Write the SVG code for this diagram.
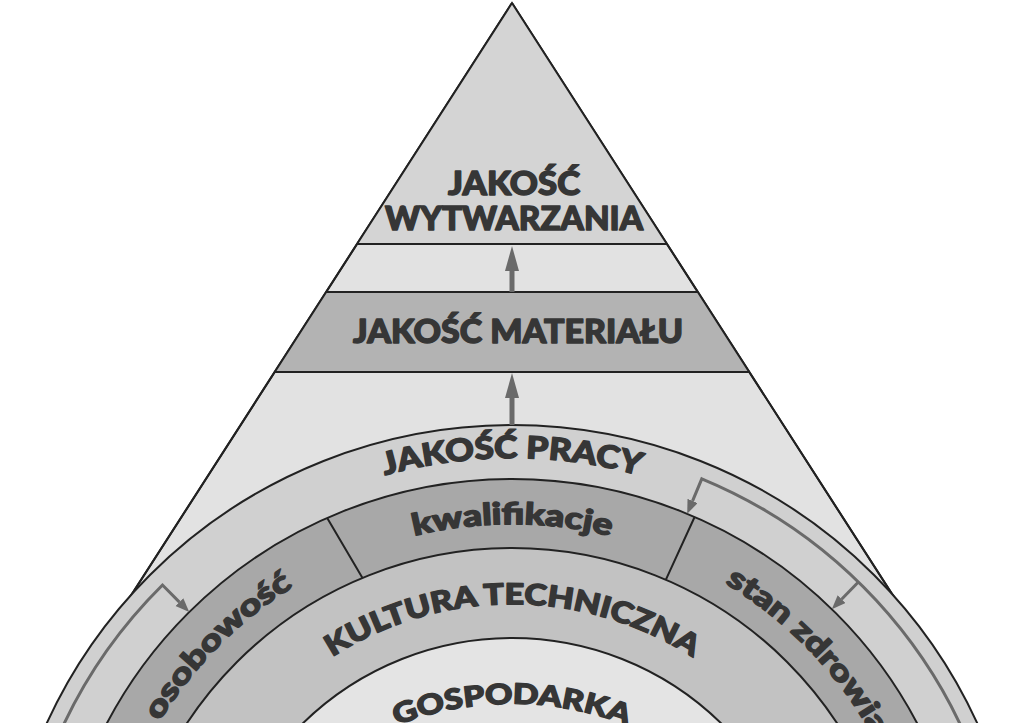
<svg xmlns="http://www.w3.org/2000/svg" width="1024" height="723" viewBox="0 0 1024 723">
<style>
.ln{stroke:#222;stroke-width:2;fill:none}
.t{font-family:"Lato","Liberation Sans",sans-serif;font-weight:900;fill:#363636;stroke:#363636;stroke-width:1.4;stroke-linejoin:round}
.con{stroke:#6a6a6a;stroke-width:3;fill:none}
</style>
<defs>
<marker id="ah" markerUnits="userSpaceOnUse" markerWidth="26" markerHeight="16" refX="0" refY="7" orient="auto"><path d="M0,0 L25,7 L0,14 z" fill="#6a6a6a"/></marker>
<marker id="ch" markerUnits="userSpaceOnUse" markerWidth="16" markerHeight="12" refX="0" refY="5.5" orient="auto"><path d="M0,0 L14,5.5 L0,11 z" fill="#6a6a6a"/></marker>
<path id="pPraca" d="M40.3,853.8 A479,479 0 0 1 983.7,853.8"/>
<path id="pRing" d="M105.3,865.3 A413,413 0 0 1 918.7,865.3"/>
<path id="pKult" d="M184.1,879.2 A333,333 0 0 1 839.9,879.2"/>
<path id="pGosp" d="M198.8,966.8 A318,318 0 0 1 825.2,966.8"/>
</defs>
<rect width="1024" height="723" fill="#fff"/>
<g id="pyramid">
<polygon points="512,3 44.5,730 979.5,730" fill="#e2e2e2" stroke="#222" stroke-width="2" stroke-linejoin="miter"/>
<polygon points="512,3 357,244 667,244" fill="#d4d4d4"/>
<polygon points="326,292 698,292 749.3,372 274.7,372" fill="#b3b3b3"/>
<path class="ln" d="M512,3 L44.5,730 M512,3 L979.5,730"/>
<path class="ln" d="M357,244 H667 M326,292 H698 M274.7,372 H749.3"/>
</g>
<g id="node-wytwarzanie">
<text class="t" x="514" y="195" font-size="32" text-anchor="middle" textLength="132" lengthAdjust="spacingAndGlyphs">JAKOŚĆ</text>
<text class="t" x="514" y="230" font-size="32" text-anchor="middle" textLength="258" lengthAdjust="spacingAndGlyphs">WYTWARZANIA</text>
</g>
<g id="node-material">
<text class="t" x="518" y="343" font-size="32" text-anchor="middle" textLength="330" lengthAdjust="spacingAndGlyphs">JAKOŚĆ MATERIAŁU</text>
</g>
<g id="node-praca">
<circle cx="512" cy="937" r="512" fill="#d0d0d0" stroke="#222" stroke-width="2"/>
<text class="t" font-size="31"><textPath href="#pPraca" startOffset="668.8" text-anchor="middle" textLength="258" lengthAdjust="spacingAndGlyphs">JAKOŚĆ PRACY</textPath></text>
</g>
<g id="node-skladniki">
<circle cx="512" cy="937" r="458" fill="#a8a8a8" stroke="#222" stroke-width="2"/>
<text class="t" font-size="30"><textPath href="#pRing" startOffset="250.1" text-anchor="middle" textLength="191" lengthAdjust="spacingAndGlyphs">osobowość</textPath></text>
<text class="t" font-size="30"><textPath href="#pRing" startOffset="576.7" text-anchor="middle" textLength="198" lengthAdjust="spacingAndGlyphs">kwalifikacje</textPath></text>
<text class="t" font-size="30"><textPath href="#pRing" startOffset="800" textLength="215" lengthAdjust="spacingAndGlyphs">stan zdrowia</textPath></text>
</g>
<g id="node-kultura">
<circle cx="512" cy="937" r="389" fill="#c2c2c2" stroke="#222" stroke-width="2"/>
<text class="t" font-size="29"><textPath href="#pKult" startOffset="465" text-anchor="middle" textLength="381" lengthAdjust="spacingAndGlyphs">KULTURA TECHNICZNA</textPath></text>
</g>
<g id="node-gospodarka">
<circle cx="512" cy="937" r="299" fill="#e4e4e4" stroke="#222" stroke-width="2"/>
<text class="t" font-size="28"><textPath href="#pGosp" startOffset="444" text-anchor="middle" textLength="236" lengthAdjust="spacingAndGlyphs">GOSPODARKA</textPath></text>
</g>
<g id="dividers">
<path class="ln" d="M327.2,518 L362.5,577.9 M694.6,517 L665.9,579.7"/>
</g>
<g id="connectors">
<line x1="512" y1="292" x2="512" y2="271" stroke="#6a6a6a" stroke-width="5" marker-end="url(#ah)"/>
<line x1="512" y1="425" x2="512" y2="398" stroke="#6a6a6a" stroke-width="5" marker-end="url(#ah)"/>
<path class="con" d="M983.7,783.7 A496,496 0 0 0 701.8,478.8 L692.6,500.9" marker-end="url(#ch)"/>
<path class="con" d="M858.4,582 L841.6,599.2" marker-end="url(#ch)"/>
<path class="con" d="M40.3,783.7 A496,496 0 0 1 162.5,585 L179.4,602.1" marker-end="url(#ch)"/>
</g>
</svg>
